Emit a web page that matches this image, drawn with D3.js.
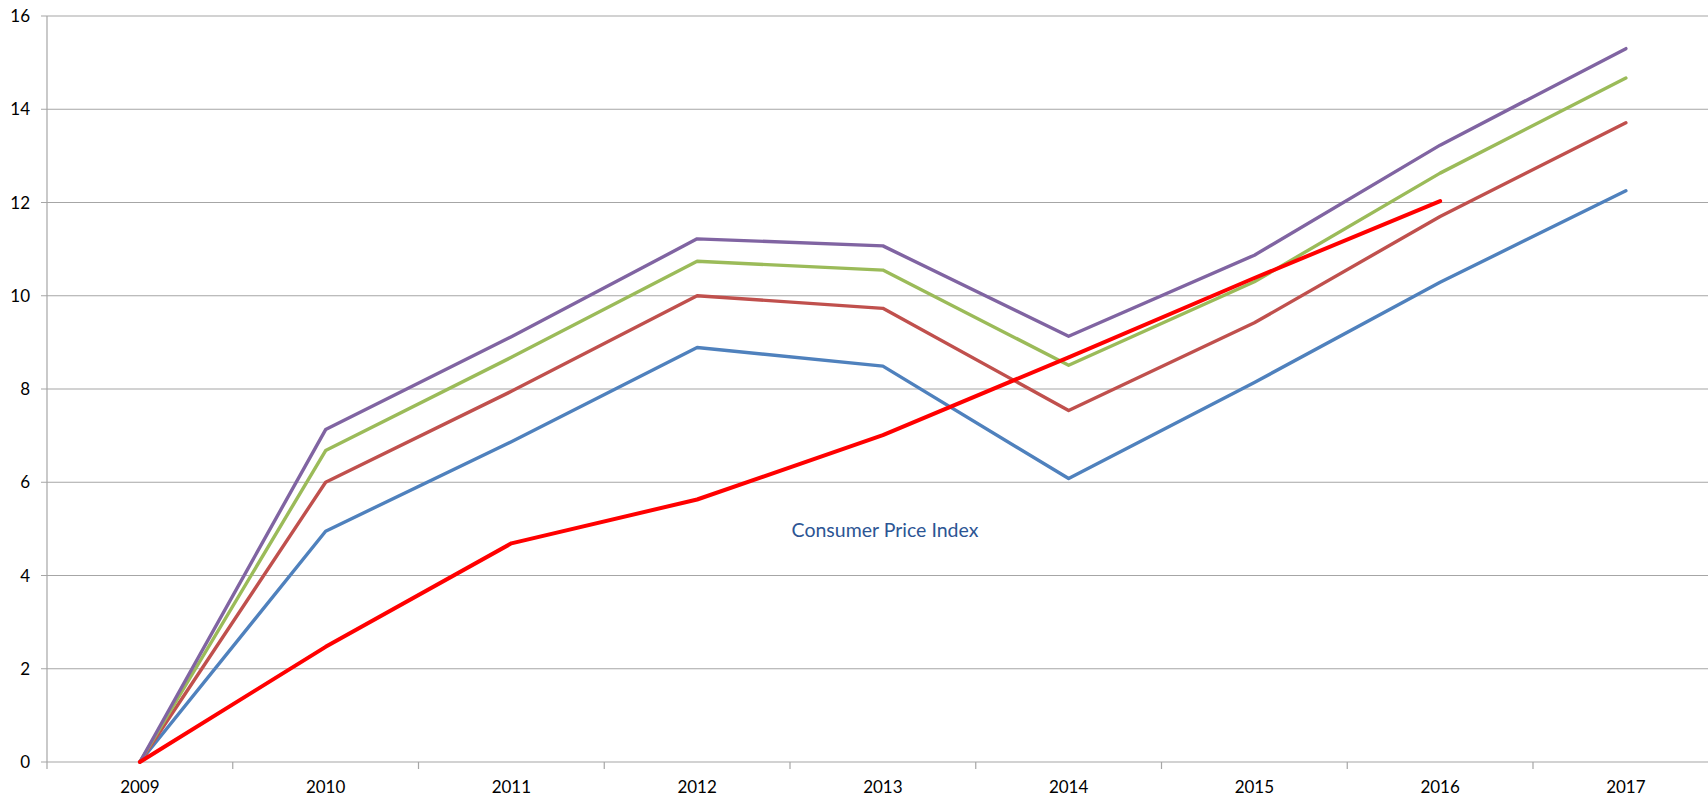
<!DOCTYPE html>
<html>
<head>
<meta charset="utf-8">
<script src="https://cdn.jsdelivr.net/npm/d3@7"></script>
<style>
  html, body { margin: 0; padding: 0; background: #fff; overflow: hidden; }
  svg { display: block; }
  text { font-family: Lato, "Open Sans", sans-serif; }
</style>
</head>
<body>
<svg id="chart" width="1708" height="797"></svg>
<script>
const years = ["2009","2010","2011","2012","2013","2014","2015","2016","2017"];
const yTicks = [0, 2, 4, 6, 8, 10, 12, 14, 16];

const seriesBlue   = [0, 4.95, 6.87, 8.89, 8.49, 6.08, 8.14, 10.29, 12.25];
const seriesBrown  = [0, 6.00, 7.95, 10.00, 9.73, 7.54, 9.42, 11.70, 13.71];
const seriesGreen  = [0, 6.68, 8.68, 10.74, 10.55, 8.51, 10.30, 12.63, 14.67];
const seriesPurple = [0, 7.13, 9.12, 11.22, 11.07, 9.13, 10.87, 13.23, 15.30];
const seriesCPI    = [0, 2.47, 4.69, 5.63, 7.01, 8.68, 10.38, 12.03];

const annotation = "Consumer Price Index";

(function () {
const svg = d3.select("#chart");
const plotLeft = 47, plotTop = 16, plotBottom = 762;
const band = 185.75;
const plotRight = plotLeft + band * years.length;

const x = d3.scaleBand().domain(years).range([plotLeft, plotRight]).paddingInner(0).paddingOuter(0);
const y = d3.scaleLinear().domain([0, 16]).range([plotBottom, plotTop]);

// gridlines
svg.append("g")
  .selectAll("line")
  .data(yTicks)
  .join("line")
  .attr("x1", plotLeft - 6)
  .attr("x2", plotRight)
  .attr("y1", d => y(d))
  .attr("y2", d => y(d))
  .attr("stroke", "#a6a6a6")
  .attr("stroke-width", 1.2);

// y axis line
svg.append("line")
  .attr("x1", plotLeft).attr("x2", plotLeft)
  .attr("y1", plotTop).attr("y2", plotBottom)
  .attr("stroke", "#a6a6a6").attr("stroke-width", 1.2);

// y labels
svg.append("g")
  .selectAll("text")
  .data(yTicks)
  .join("text")
  .attr("x", 30)
  .attr("y", d => y(d))
  .attr("dy", "0.36em")
  .attr("text-anchor", "end")
  .attr("font-size", 17)
  .attr("fill", "#000")
  .text(d => d);

// x tick marks at category boundaries
const boundaries = years.map(d => x(d)).concat([plotRight]);
svg.append("g")
  .selectAll("line")
  .data(boundaries)
  .join("line")
  .attr("x1", d => d).attr("x2", d => d)
  .attr("y1", plotBottom).attr("y2", plotBottom + 7)
  .attr("stroke", "#a6a6a6").attr("stroke-width", 1.2);

// x labels
svg.append("g")
  .selectAll("text")
  .data(years)
  .join("text")
  .attr("x", d => x(d) + x.bandwidth() / 2)
  .attr("y", 793)
  .attr("text-anchor", "middle")
  .attr("font-size", 17)
  .attr("fill", "#000")
  .text(d => d);

const line = d3.line()
  .x((d, i) => x(years[i]) + x.bandwidth() / 2)
  .y(d => y(d));

const series = [
  { values: seriesBlue,   color: "#4f81bd", width: 3.4 },
  { values: seriesBrown,  color: "#c0504d", width: 3.4 },
  { values: seriesGreen,  color: "#9bbb59", width: 3.4 },
  { values: seriesPurple, color: "#8064a2", width: 3.4 },
  { values: seriesCPI,    color: "#ff0000", width: 4 }
];

svg.append("g")
  .selectAll("path")
  .data(series)
  .join("path")
  .attr("d", d => line(d.values))
  .attr("fill", "none")
  .attr("stroke", d => d.color)
  .attr("stroke-width", d => d.width)
  .attr("stroke-linejoin", "round")
  .attr("stroke-linecap", "round");

svg.append("text")
  .attr("x", 885)
  .attr("y", 530)
  .attr("dy", "0.36em")
  .attr("text-anchor", "middle")
  .attr("font-size", 19.5)
  .attr("fill", "#2c5594")
  .text(annotation);
})();
</script>
</body>
</html>
